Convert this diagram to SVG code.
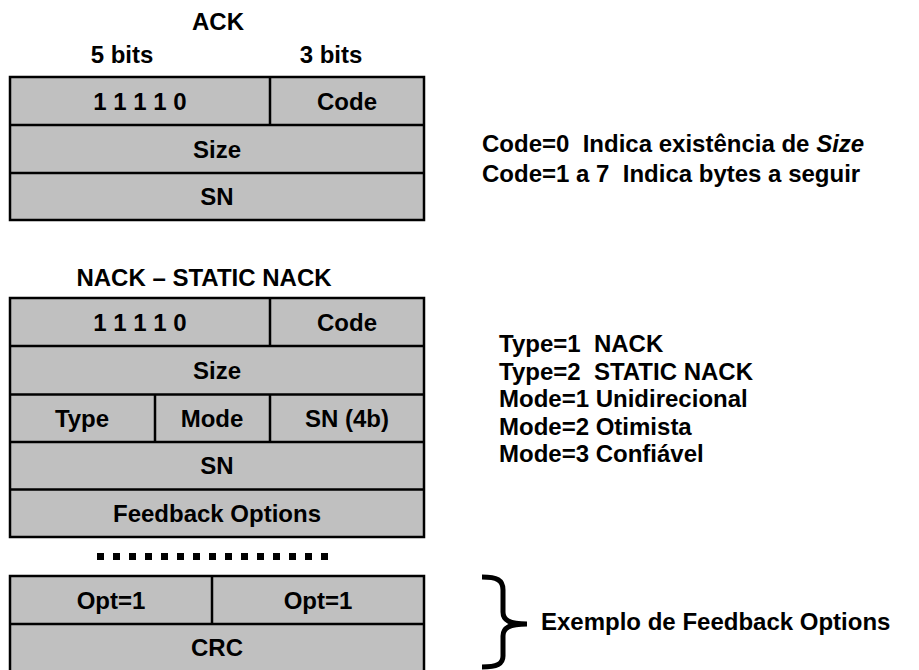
<svg xmlns="http://www.w3.org/2000/svg" width="919" height="670" viewBox="0 0 919 670">
<style>
text{font-family:"Liberation Sans",Arial,sans-serif;font-weight:bold;font-size:24px;fill:#000;white-space:pre}
.c{text-anchor:middle}
.cell{fill:#c0c0c0;stroke:#000;stroke-width:2.5}
.ln{stroke:#000;stroke-width:2.5;fill:none}
</style>
<rect width="919" height="670" fill="#fff"/>
<g id="ack">
<text class="c" x="218" y="30">ACK</text>
<text class="c" x="122" y="63">5 bits</text>
<text class="c" x="331" y="63">3 bits</text>
<rect class="cell" x="10" y="77" width="414" height="143"/>
<path class="ln" d="M10 125H424M10 173H424M270 77V125"/>
<text class="c" x="140" y="110">1 1 1 1 0</text>
<text class="c" x="347" y="110">Code</text>
<text class="c" x="217" y="158">Size</text>
<text class="c" x="217" y="205">SN</text>
</g>
<g id="ack-notes">
<text x="482" y="152" xml:space="preserve">Code=0  Indica existência de <tspan font-style="italic">Size</tspan></text>
<text x="482" y="182" xml:space="preserve">Code=1 a 7  Indica bytes a seguir</text>
</g>
<g id="nack">
<text class="c" x="204" y="286">NACK – STATIC NACK</text>
<rect class="cell" x="10" y="298" width="414" height="239"/>
<path class="ln" d="M10 346H424M10 394.5H424M10 442H424M10 489.5H424M270 298V346M270 394.5V442M155 394.5V442"/>
<text class="c" x="140" y="331">1 1 1 1 0</text>
<text class="c" x="347" y="331">Code</text>
<text class="c" x="217" y="379">Size</text>
<text class="c" x="82" y="427">Type</text>
<text class="c" x="212" y="427">Mode</text>
<text class="c" x="347" y="427">SN (4b)</text>
<text class="c" x="217" y="474">SN</text>
<text class="c" x="217" y="522">Feedback Options</text>
</g>
<g id="nack-notes">
<text x="499" y="352" xml:space="preserve">Type=1  NACK</text>
<text x="499" y="379.5" xml:space="preserve">Type=2  STATIC NACK</text>
<text x="499" y="407">Mode=1 Unidirecional</text>
<text x="499" y="434.5">Mode=2 Otimista</text>
<text x="499" y="462">Mode=3 Confiável</text>
</g>
<g id="dots">
<line x1="97" y1="556.5" x2="330" y2="556.5" stroke="#000" stroke-width="7" stroke-dasharray="7 9"/>
</g>
<g id="options">
<rect class="cell" x="10" y="576" width="414" height="100"/>
<path class="ln" d="M10 624H424M212 576V624"/>
<text class="c" x="111" y="609">Opt=1</text>
<text class="c" x="318" y="609">Opt=1</text>
<text class="c" x="217" y="656">CRC</text>
</g>
<g id="brace">
<path d="M482 577C497 577 503 580 503 590V612C503 620 509 624 527 624C509 624 503 628 503 636V656C503 664 497 667 482 667" fill="none" stroke="#000" stroke-width="5"/>
<text x="541" y="630">Exemplo de Feedback Options</text>
</g>
</svg>
